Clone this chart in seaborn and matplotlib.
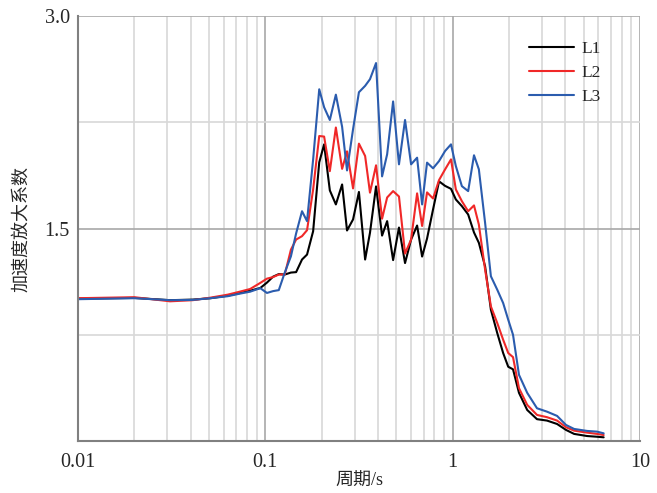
import pandas as pd
import matplotlib.pyplot as plt
import seaborn as sns
from matplotlib.ticker import FixedLocator, LogLocator, NullFormatter

# periods (s)
period = [0.01, 0.02, 0.031, 0.041, 0.051, 0.063, 0.073, 0.083, 0.094, 0.102,
          0.110, 0.118, 0.127, 0.137, 0.146, 0.157, 0.167, 0.180, 0.194, 0.206,
          0.221, 0.238, 0.257, 0.273, 0.294, 0.316, 0.341, 0.362, 0.390, 0.420,
          0.447, 0.481, 0.517, 0.557, 0.600, 0.646, 0.687, 0.730, 0.786, 0.846,
          0.911, 0.980, 1.04, 1.12, 1.21, 1.30, 1.38, 1.49, 1.60, 1.73,
          1.86, 1.98, 2.10, 2.26, 2.50, 2.82, 3.19, 3.61, 4.03, 4.45,
          5.22, 5.90, 6.40]

L1 = [1.005, 1.010, 0.994, 0.998, 1.008, 1.026, 1.044, 1.061, 1.080, 1.118,
      1.160, 1.178, 1.175, 1.189, 1.192, 1.281, 1.316, 1.481, 1.967, 2.094,
      1.769, 1.670, 1.811, 1.486, 1.564, 1.758, 1.281, 1.470, 1.797, 1.450,
      1.552, 1.277, 1.507, 1.256, 1.422, 1.521, 1.302, 1.429, 1.635, 1.833,
      1.801, 1.780, 1.705, 1.658, 1.599, 1.472, 1.399, 1.233, 0.927, 0.762,
      0.621, 0.524, 0.506, 0.340, 0.219, 0.154, 0.144, 0.120, 0.078, 0.050,
      0.035, 0.030, 0.026]

L2 = [1.008, 1.015, 0.986, 0.994, 1.012, 1.033, 1.054, 1.073, 1.116, 1.146,
      1.157, 1.175, 1.175, 1.351, 1.422, 1.446, 1.488, 1.776, 2.153, 2.149,
      1.905, 2.213, 1.921, 2.045, 1.783, 2.099, 2.012, 1.753, 1.946, 1.569,
      1.719, 1.764, 1.726, 1.323, 1.422, 1.748, 1.518, 1.755, 1.712, 1.842,
      1.917, 1.988, 1.776, 1.693, 1.622, 1.663, 1.528, 1.210, 0.950, 0.833,
      0.715, 0.621, 0.592, 0.373, 0.255, 0.184, 0.168, 0.144, 0.097, 0.073,
      0.059, 0.050, 0.042]

L3 = [1.001, 1.008, 0.994, 0.996, 1.008, 1.022, 1.040, 1.054, 1.079, 1.045,
      1.058, 1.065, 1.189, 1.304, 1.465, 1.622, 1.552, 1.988, 2.483, 2.356,
      2.266, 2.445, 2.218, 1.910, 2.201, 2.462, 2.507, 2.554, 2.668, 1.868,
      2.024, 2.397, 1.953, 2.266, 1.953, 2.000, 1.670, 1.965, 1.925, 1.976,
      2.047, 2.094, 1.941, 1.799, 1.764, 2.017, 1.918, 1.540, 1.163, 1.068,
      0.974, 0.856, 0.750, 0.467, 0.340, 0.231, 0.207, 0.177, 0.113, 0.085,
      0.071, 0.066, 0.054]

series_names = ['L1', 'L2', 'L3']
colors = ['#000000', '#f02828', '#2b5cae']

df = pd.DataFrame({
    'period': period * 3,
    'value': L1 + L2 + L3,
    'series': [n for n in series_names for _ in period],
})

sns.set_style('white')
plt.rcParams['font.family'] = ['Liberation Serif', 'Noto Sans CJK SC']

fig = plt.figure(figsize=(6.57, 4.93), dpi=100)
ax = fig.add_axes([0.1187, 0.1055, 0.8554, 0.862])

sns.lineplot(data=df, x='period', y='value', hue='series', palette=colors,
             linewidth=1.5, ax=ax)

ax.set_xscale('log')
ax.set_xlim(0.01, 10)
ax.set_ylim(0, 3.0)
ax.yaxis.set_major_locator(FixedLocator([1.5, 3.0]))
ax.yaxis.set_minor_locator(FixedLocator([0.75, 2.25]))
ax.set_yticklabels(['1.5', '3.0'])
ax.xaxis.set_major_locator(FixedLocator([0.01, 0.1, 1, 10]))
ax.set_xticklabels(['0.01', '0.1', '1', '10'])
ax.xaxis.set_minor_locator(LogLocator(base=10, subs=range(2, 10)))
ax.xaxis.set_minor_formatter(NullFormatter())

ax.grid(which='major', color='#a8a8a8', linewidth=1.2)
ax.grid(which='minor', color='#d8d8d8', linewidth=1.2)
ax.set_axisbelow(True)
ax.tick_params(which='both', length=0, labelsize=14.5)
ax.tick_params(axis='x', pad=9)
ax.tick_params(axis='y', pad=6)

for side in ['top', 'right']:
    ax.spines[side].set_visible(False)
for side in ['left', 'bottom']:
    ax.spines[side].set_color('#808080')
    ax.spines[side].set_linewidth(1.5)

ax.set_xlabel('周期/s', fontsize=13, labelpad=0)
ax.set_ylabel('加速度放大系数', fontsize=13, labelpad=10)

ax.legend(loc='upper right', bbox_to_anchor=(0.958, 0.978), frameon=False,
          fontsize=12.5, handlelength=2.6, labelspacing=0.45, handletextpad=0.4)

fig.savefig('out.png', dpi=100)
